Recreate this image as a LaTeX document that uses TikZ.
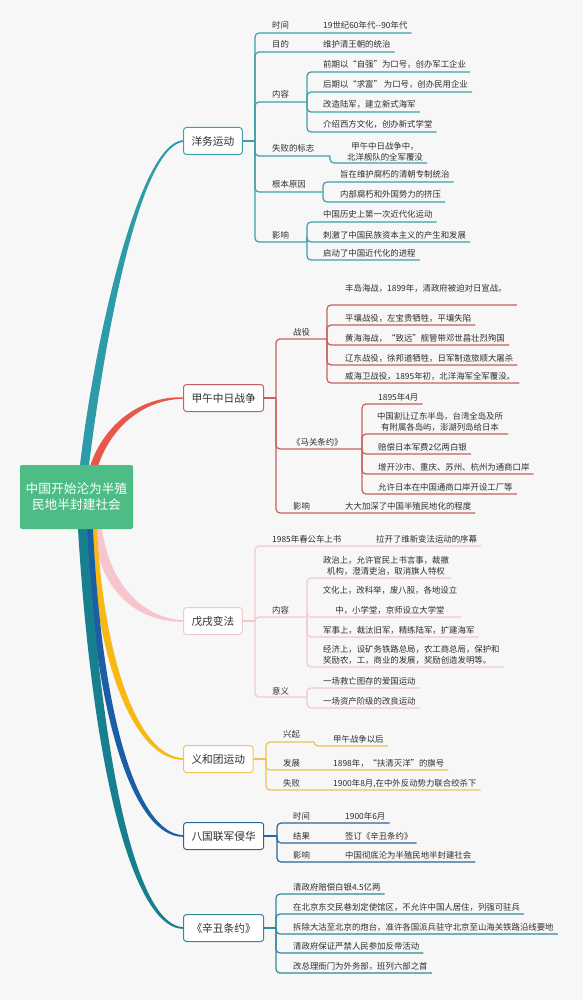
\documentclass[tikz,border=0pt]{standalone}
\usepackage{fontspec}
\setmainfont{Noto Sans CJK SC}
\usepackage{tikz}
\usetikzlibrary{positioning, backgrounds}
\definecolor{paper}{HTML}{F7F7F7}
\definecolor{ink}{HTML}{2E2E2E}
\definecolor{rootgreen}{HTML}{4DBD85}
\definecolor{ywmain}{HTML}{2E9BA9}
\definecolor{ywline}{HTML}{3DA0A8}
\definecolor{jwmain}{HTML}{E8574A}
\definecolor{jwline}{HTML}{C4615D}
\definecolor{wxmain}{HTML}{F7C6CC}
\definecolor{wxline}{HTML}{F0C9CE}
\definecolor{yhmain}{HTML}{F7B916}
\definecolor{yhline}{HTML}{EFC454}
\definecolor{bgmain}{HTML}{1C5EA5}
\definecolor{bgline}{HTML}{2C6698}
\definecolor{xcmain}{HTML}{187F8E}
\definecolor{xcline}{HTML}{2E8B98}
\newcommand{\leafsize}{\fontsize{8.4}{11}\selectfont}
\tikzset{
root topic/.style = {rectangle, fill = rootgreen, text = white, rounded corners = 2pt, minimum width = 113pt, minimum height = 64pt, align = center, font = \fontsize{12.7}{16}\selectfont},
main topic/.style = {rectangle, draw = #1, fill = white, text = ink, rounded corners = 3pt, line width = 1pt, minimum height = 27pt, inner xsep = 8pt, anchor = west, font = \fontsize{10.7}{13}\selectfont},
leaf/.style = {anchor = base west, inner sep = 0pt, text = ink, font = \leafsize},
two line leaf/.style = {anchor = south, inner sep = 0pt, align = center, text = ink, font = \leafsize},
link/.style = {draw = #1, line width = 1.2pt, rounded corners = 4pt},
}

\begin{document}
\begin{tikzpicture}[x=1pt, y=-1pt]
    % central topic and the six main topics
    \node[root topic] (root) at (76.5,497) {中国开始沦为半殖\\民地半封建社会};
    \node[main topic=ywline] (yw) at (183,141) {洋务运动};
    \node[main topic=jwline] (jw) at (183,398) {甲午中日战争};
    \node[main topic=wxline] (wx) at (183,621) {戊戌变法};
    \node[main topic=yhline] (yh) at (183,759) {义和团运动};
    \node[main topic=bgline] (bg) at (183,836) {八国联军侵华};
    \node[main topic=xcline] (xc) at (183,928) {《辛丑条约》};

    % tapered branches, behind the topics
    \begin{scope}[on background layer]
      \fill[paper] (0,0) rectangle (583,1000);
      \fill[wxmain] ([xshift=16.5pt]root.south) .. controls (100,595) and (140,622) .. ([yshift=-0.8pt]wx.west)
        -- ([yshift=0.8pt]wx.west) .. controls (143,618) and (110,585) .. ([xshift=25.5pt]root.south) -- cycle;
      \fill[yhmain] ([xshift=13.5pt]root.south) .. controls (96,665) and (135,760) .. ([yshift=-0.8pt]yh.west)
        -- ([yshift=0.8pt]yh.west) .. controls (138,756) and (104,660) .. ([xshift=20.5pt]root.south) -- cycle;
      \fill[bgmain] ([xshift=9.5pt]root.south) .. controls (95,725) and (135,837) .. ([yshift=-0.8pt]bg.west)
        -- ([yshift=0.8pt]bg.west) .. controls (138,833) and (102,720) .. ([xshift=16.5pt]root.south) -- cycle;
      \fill[xcmain] ([xshift=1.5pt]root.south) .. controls (95,805) and (140,929) .. ([yshift=-0.8pt]xc.west)
        -- ([yshift=0.8pt]xc.west) .. controls (142,925) and (105,800) .. ([xshift=10.5pt]root.south) -- cycle;
      \fill[ywmain] ([xshift=3.5pt]root.north) .. controls (96,330) and (140,143) .. ([yshift=0.8pt]yw.west)
        -- ([yshift=-0.8pt]yw.west) .. controls (140,148) and (106,330) .. ([xshift=12.5pt]root.north) -- cycle;
      \fill[jwmain] ([xshift=14pt]root.north) .. controls (104,425) and (140,396) .. ([yshift=0.7pt]jw.west)
        -- ([yshift=-0.7pt]jw.west) .. controls (142,400) and (111,428) .. ([xshift=22pt]root.north) -- cycle;
    \end{scope}

    % 洋务运动
    \coordinate (yw-j) at (255,141);
    \coordinate (yw-nr-j) at (307,102);
    \coordinate (yw-sb-j) at (330,156);
    \coordinate (yw-gb-j) at (323,192);
    \coordinate (yw-yx-j) at (307,242);
    \node[leaf] (yw-sj) at (272,29) {时间};
    \node[leaf] (yw-sjv) at (323,29) {19世纪60年代{-}{-}90年代};
    \node[leaf] (yw-md) at (272,48) {目的};
    \node[leaf] (yw-mdv) at (323,48) {维护清王朝的统治};
    \node[leaf] (yw-nr) at (272,98) {内容};
    \node[leaf] (yw-nr1) at (323,68) {前期以“自强”为口号，创办军工企业};
    \node[leaf] (yw-nr2) at (323,88) {后期以“求富” 为口号，创办民用企业};
    \node[leaf] (yw-nr3) at (323,108) {改造陆军，建立新式海军};
    \node[leaf] (yw-nr4) at (323,128) {介绍西方文化，创办新式学堂};
    \node[leaf] (yw-sb) at (272,152) {失败的标志};
    \node[two line leaf] (yw-sbv) at (385,161) {甲午中日战争中，\\北洋舰队的全军覆没};
    \node[leaf] (yw-gb) at (272,188) {根本原因};
    \node[leaf] (yw-gb1) at (340,178) {旨在维护腐朽的清朝专制统治};
    \node[leaf] (yw-gb2) at (340,198) {内部腐朽和外国势力的挤压};
    \node[leaf] (yw-yx) at (272,238) {影响};
    \node[leaf] (yw-yx1) at (323,218) {中国历史上第一次近代化运动};
    \node[leaf] (yw-yx2) at (323,238) {刺激了中国民族资本主义的产生和发展};
    \node[leaf] (yw-yx3) at (323,256) {启动了中国近代化的进程};
    \begin{scope}[every path/.style={link=ywline}]
      \path (yw.east) -- (yw-j);
      \path (yw-j) |- ([xshift=4pt,yshift=-4pt]yw-sjv.base east);
      \path (yw-j) |- ([xshift=4pt,yshift=-4pt]yw-mdv.base east);
      \path (yw-j) |- (yw-nr-j);
      \path (yw-nr-j) |- ([xshift=4pt,yshift=-4pt]yw-nr1.base east);
      \path (yw-nr-j) |- ([xshift=4pt,yshift=-4pt]yw-nr2.base east);
      \path (yw-nr-j) |- ([xshift=4pt,yshift=-4pt]yw-nr3.base east);
      \path (yw-nr-j) |- ([xshift=4pt,yshift=-4pt]yw-nr4.base east);
      \path (yw-j) |- (yw-sb-j);
      \path (yw-sb-j) |- ([xshift=4pt,yshift=-2pt]yw-sbv.south east);
      \path (yw-j) |- (yw-gb-j);
      \path (yw-gb-j) |- ([xshift=4pt,yshift=-4pt]yw-gb1.base east);
      \path (yw-gb-j) |- ([xshift=4pt,yshift=-4pt]yw-gb2.base east);
      \path (yw-j) |- (yw-yx-j);
      \path (yw-yx-j) |- ([xshift=4pt,yshift=-4pt]yw-yx1.base east);
      \path (yw-yx-j) |- ([xshift=4pt,yshift=-4pt]yw-yx2.base east);
      \path (yw-yx-j) |- ([xshift=4pt,yshift=-4pt]yw-yx3.base east);
    \end{scope}

    % 甲午中日战争
    \coordinate (jw-j) at (276,398);
    \coordinate (jw-zy-j) at (327,339);
    \coordinate (jw-mg-j) at (362,449);
    \node[leaf] (jw-zy) at (293,335) {战役};
    \node[leaf] (jw-zy1) at (345,291) {丰岛海战，1899年，清政府被迫对日宣战。};
    \node[leaf] (jw-zy2) at (345,321) {平壤战役，左宝贵牺牲，平壤失陷};
    \node[leaf] (jw-zy3) at (345,341) {黄海海战，“致远”舰管带邓世昌壮烈殉国};
    \node[leaf] (jw-zy4) at (345,361) {辽东战役，徐邦道牺牲，日军制造旅顺大屠杀};
    \node[leaf] (jw-zy5) at (345,379) {威海卫战役，1895年初，北洋海军全军覆没。};
    \node[leaf] (jw-mg) at (292,445) {《马关条约》};
    \node[leaf] (jw-mg1) at (378,400) {1895年4月};
    \node[two line leaf] (jw-mg2) at (440,432) {中国割让辽东半岛，台湾全岛及所\\有附属各岛屿，澎湖列岛给日本};
    \node[leaf] (jw-mg3) at (378,450) {赔偿日本军费2亿两白银};
    \node[leaf] (jw-mg4) at (378,470) {增开沙市、重庆、苏州、杭州为通商口岸};
    \node[leaf] (jw-mg5) at (378,490) {允许日本在中国通商口岸开设工厂等};
    \node[leaf] (jw-yx) at (293,509) {影响};
    \node[leaf] (jw-yxv) at (345,509) {大大加深了中国半殖民地化的程度};
    \begin{scope}[every path/.style={link=jwline}]
      \path (jw.east) -- (jw-j);
      \path (jw-j) |- (jw-zy-j);
      \path (jw-zy-j) |- ([xshift=10pt,yshift=-14pt]jw-zy1.base east);
      \path (jw-zy-j) |- ([xshift=4pt,yshift=-4pt]jw-zy2.base east);
      \path (jw-zy-j) |- ([xshift=4pt,yshift=-4pt]jw-zy3.base east);
      \path (jw-zy-j) |- ([xshift=4pt,yshift=-4pt]jw-zy4.base east);
      \path (jw-zy-j) |- ([xshift=4pt,yshift=-4pt]jw-zy5.base east);
      \path (jw-j) |- (jw-mg-j);
      \path (jw-mg-j) |- ([xshift=4pt,yshift=-4pt]jw-mg1.base east);
      \path (jw-mg-j) |- ([xshift=5pt,yshift=-2pt]jw-mg2.south east);
      \path (jw-mg-j) |- ([xshift=4pt,yshift=-4pt]jw-mg3.base east);
      \path (jw-mg-j) |- ([xshift=4pt,yshift=-4pt]jw-mg4.base east);
      \path (jw-mg-j) |- ([xshift=4pt,yshift=-4pt]jw-mg5.base east);
      \path (jw-j) |- ([xshift=4pt,yshift=-4pt]jw-yxv.base east);
    \end{scope}

    % 戊戌变法
    \coordinate (wx-j) at (255,621);
    \coordinate (wx-nr-j) at (307,617);
    \coordinate (wx-yy-j) at (307,697);
    \node[leaf] (wx-gc) at (272,542) {1985年春公车上书};
    \node[leaf] (wx-gcv) at (376,542) {拉开了维新变法运动的序幕};
    \node[leaf] (wx-nr) at (272,613) {内容};
    \node[two line leaf] (wx-nr1) at (386,576) {政治上，允许官民上书言事，裁撤\\机构，澄清吏治，取消旗人特权};
    \node[two line leaf] (wx-nr2) at (390,615) {文化上，改科举，废八股，各地设立\\[9pt]中，小学堂，京师设立大学堂};
    \node[leaf] (wx-nr3) at (323,633) {军事上，裁汰旧军，精练陆军，扩建海军};
    \node[two line leaf, anchor=south west, align=left] (wx-nr4) at (323,665) {经济上，设矿务铁路总局，农工商总局，保护和\\奖励农，工，商业的发展，奖励创造发明等。};
    \node[leaf] (wx-yy) at (272,694) {意义};
    \node[leaf] (wx-yy1) at (323,684) {一场救亡图存的爱国运动};
    \node[leaf] (wx-yy2) at (323,704) {一场资产阶级的改良运动};
    \begin{scope}[every path/.style={link=wxline}]
      \path (wx.east) -- (wx-j);
      \path (wx-j) |- ([xshift=4pt,yshift=-4pt]wx-gcv.base east);
      \path (wx-j) |- (wx-nr-j);
      \path (wx-nr-j) |- ([xshift=2pt,yshift=-2pt]wx-nr1.south east);
      \path (wx-nr-j) |- ([xshift=4pt,yshift=-2pt]wx-nr2.south east);
      \path (wx-nr-j) |- ([xshift=4pt,yshift=-4pt]wx-nr3.base east);
      \path (wx-nr-j) |- ([xshift=4pt,yshift=-2pt]wx-nr4.south east);
      \path (wx-j) |- (wx-yy-j);
      \path (wx-yy-j) |- ([xshift=4pt,yshift=-4pt]wx-yy1.base east);
      \path (wx-yy-j) |- ([xshift=4pt,yshift=-4pt]wx-yy2.base east);
    \end{scope}

    % 义和团运动
    \coordinate (yh-j) at (266,759);
    \coordinate (yh-xq-j) at (314,742);
    \node[leaf] (yh-xq) at (283,737) {兴起};
    \node[leaf] (yh-xqv) at (333,742) {甲午战争以后};
    \node[leaf] (yh-fz) at (283,766) {发展};
    \node[leaf] (yh-fzv) at (333,766) {1898年，“扶清灭洋”的旗号};
    \node[leaf] (yh-sb) at (283,786) {失败};
    \node[leaf] (yh-sbv) at (333,786) {1900年8月,在中外反动势力联合绞杀下};
    \begin{scope}[every path/.style={link=yhline}]
      \path (yh.east) -- (yh-j);
      \path (yh-j) |- (yh-xq-j);
      \path (yh-xq-j) |- ([xshift=4pt,yshift=-4pt]yh-xqv.base east);
      \path (yh-j) |- ([xshift=4pt,yshift=-4pt]yh-fzv.base east);
      \path (yh-j) |- ([xshift=4pt,yshift=-4pt]yh-sbv.base east);
    \end{scope}

    % 八国联军侵华
    \coordinate (bg-j) at (277,836);
    \node[leaf] (bg-sj) at (293,819) {时间};
    \node[leaf] (bg-sjv) at (345,819) {1900年6月};
    \node[leaf] (bg-jg) at (293,839) {结果};
    \node[leaf] (bg-jgv) at (345,839) {签订《辛丑条约》};
    \node[leaf] (bg-yx) at (293,858) {影响};
    \node[leaf] (bg-yxv) at (345,858) {中国彻底沦为半殖民地半封建社会};
    \begin{scope}[every path/.style={link=bgline}]
      \path (bg.east) -- (bg-j);
      \path (bg-j) |- ([xshift=4pt,yshift=-4pt]bg-sjv.base east);
      \path (bg-j) |- ([xshift=4pt,yshift=-4pt]bg-jgv.base east);
      \path (bg-j) |- ([xshift=4pt,yshift=-4pt]bg-yxv.base east);
    \end{scope}

    % 《辛丑条约》
    \coordinate (xc-j) at (276,928);
    \node[leaf] (xc-1) at (293,890) {清政府赔偿白银4.5亿两};
    \node[leaf] (xc-2) at (293,910) {在北京东交民巷划定使馆区，不允许中国人居住，列强可驻兵};
    \node[leaf] (xc-3) at (293,930) {拆除大沽至北京的炮台，准许各国派兵驻守北京至山海关铁路沿线要地};
    \node[leaf] (xc-4) at (293,949) {清政府保证严禁人民参加反帝活动};
    \node[leaf] (xc-5) at (293,969) {改总理衙门为外务部，班列六部之首};
    \begin{scope}[every path/.style={link=xcline}]
      \path (xc.east) -- (xc-j);
      \path (xc-j) |- ([xshift=4pt,yshift=-4pt]xc-1.base east);
      \path (xc-j) |- ([xshift=4pt,yshift=-4pt]xc-2.base east);
      \path (xc-j) |- ([xshift=4pt,yshift=-4pt]xc-3.base east);
      \path (xc-j) |- ([xshift=4pt,yshift=-4pt]xc-4.base east);
      \path (xc-j) |- ([xshift=4pt,yshift=-4pt]xc-5.base east);
    \end{scope}
\end{tikzpicture}
\end{document}
